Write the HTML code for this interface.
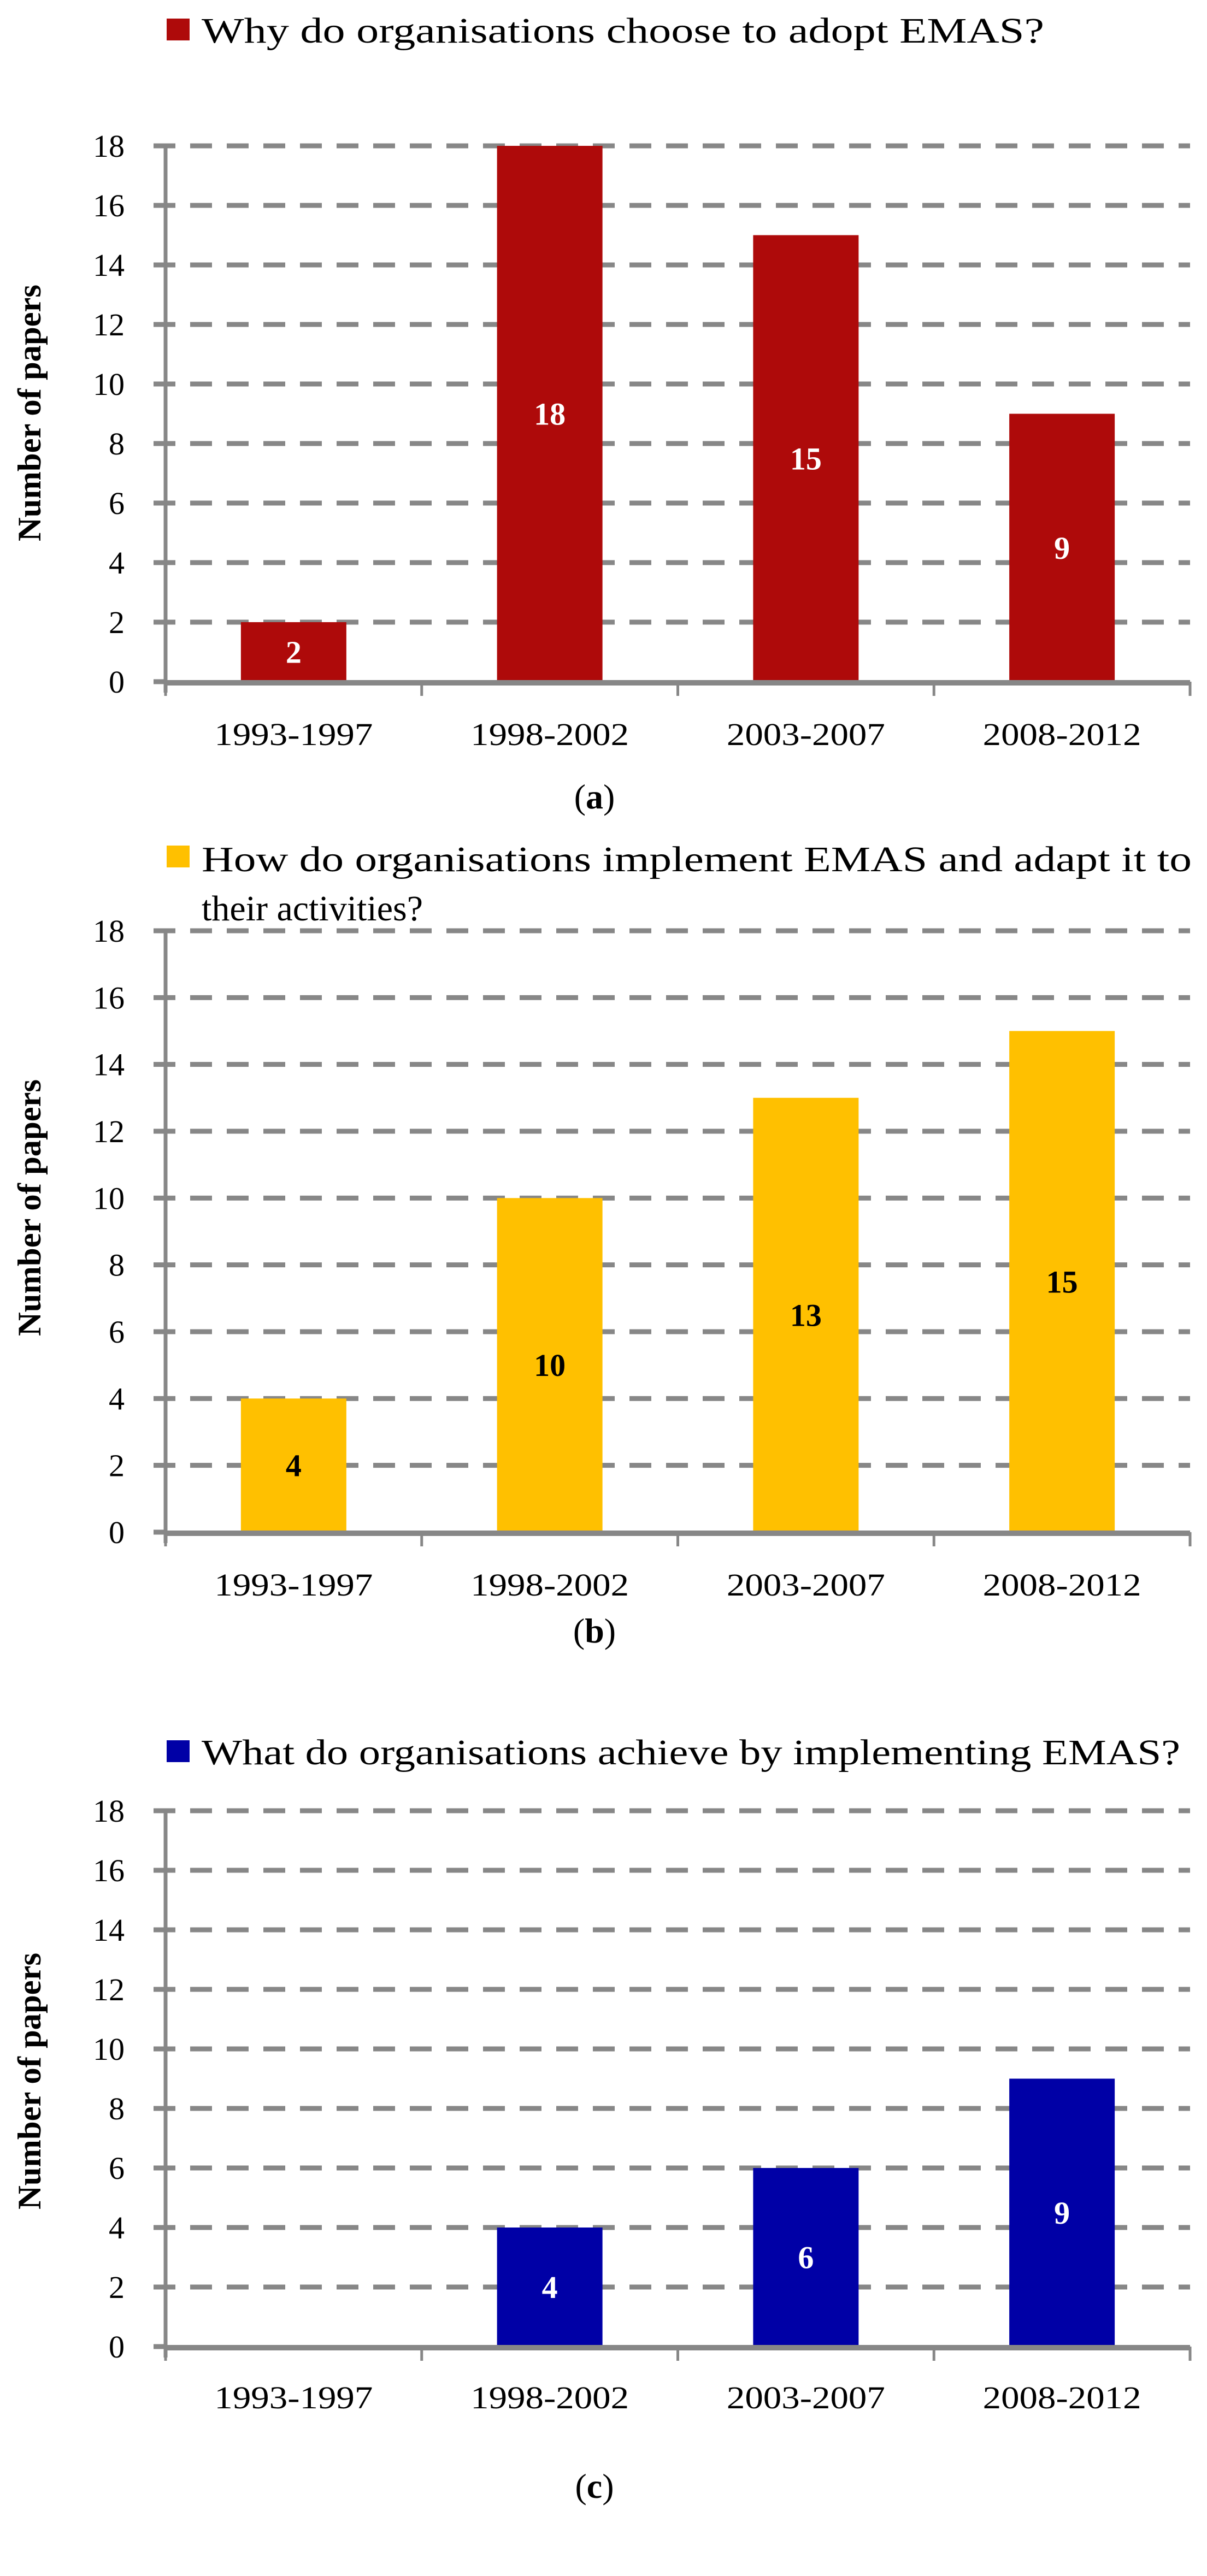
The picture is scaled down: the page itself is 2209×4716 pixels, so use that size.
<!DOCTYPE html>
<html><head><meta charset="utf-8"><title>EMAS papers</title>
<style>
html,body{margin:0;padding:0;background:#fff;}
svg{display:block;font-family:"Liberation Serif",serif;}
</style></head>
<body>
<svg id="fig" width="2209" height="4716" viewBox="0 0 2209 4716" xmlns="http://www.w3.org/2000/svg"></svg>
<script>
const categories = ["1993-1997","1998-2002","2003-2007","2008-2012"];
const valuesA = [2,18,15,9];
const valuesB = [4,10,13,15];
const valuesC = [0,4,6,9];
const yTicks = [0,2,4,6,8,10,12,14,16,18];
const legendA = ["Why do organisations choose to adopt EMAS?"];
const legendB = ["How do organisations implement EMAS and adapt it to","their activities?"];
const legendC = ["What do organisations achieve by implementing EMAS?"];

const NS = "http://www.w3.org/2000/svg";
const svg = document.getElementById("fig");
function mk(tag, attrs, parent){
  const e = document.createElementNS(NS, tag);
  for (const k in attrs) e.setAttribute(k, attrs[k]);
  (parent||svg).appendChild(e);
  return e;
}

const panels = [
  {key:"a", values:valuesA, legend:legendA, legendLens:[1542], color:"#AE0A0A", valColor:"#fff",
   top:267, bottom:1248, legSqY:34, legBase:[78], xLabBase:1364, subBase:1480, titleY:756},
  {key:"b", values:valuesB, legend:legendB, legendLens:[1812,0], color:"#FFC000", valColor:"#000",
   top:1704, bottom:2805, legSqY:1548, legBase:[1595,1685], xLabBase:2921, subBase:3007, titleY:2211},
  {key:"c", values:valuesC, legend:legendC, legendLens:[1791], color:"#0000A6", valColor:"#fff",
   top:3315, bottom:4296, legSqY:3186, legBase:[3230], xLabBase:4409, subBase:4573, titleY:3810}
];

const axisX = 303, rightX = 2178;
const catW = (rightX - axisX) / categories.length;
const barW = 193;

panels.forEach(p => {
  const g = mk("g", {});
  
  
  const yScale = v => p.bottom - (v / 18) * (p.bottom - p.top);
  const xCenter = i => axisX + catW * (i + 0.5);

  const sq = mk("rect", {x:305, y:p.legSqY, width:42, height:40, fill:p.color}, g);
  
  
  p.legend.forEach((line, i) => {
    const attrs = {x:369, y:p.legBase[i], "font-size":66, fill:"#000"};
    if (p.legendLens[i]) { attrs.textLength = p.legendLens[i]; attrs.lengthAdjust = "spacingAndGlyphs"; }
    const t = mk("text", attrs, g);
    t.textContent = line;
    
    
  });

  yTicks.forEach(v => {
    if (v === 0) return;
    const y = yScale(v);
    const gl = mk("line", {x1:281, x2:rightX, y1:y, y2:y, stroke:"#878787", "stroke-width":9,
      "stroke-dasharray":"40 27"}, g);
    
    
  });
  yTicks.forEach(v => {
    const t = mk("text", {x:228, y:yScale(v) + 20, "font-size":58, "text-anchor":"end", fill:"#000"}, g);
    t.textContent = v;
    
    
  });

  p.values.forEach((v, i) => {
    if (v <= 0) return;
    const y = yScale(v);
    const b = mk("rect", {x:xCenter(i) - barW/2, y:y, width:barW, height:p.bottom - y, fill:p.color}, g);
    
    
    const t = mk("text", {x:xCenter(i), y:(y + p.bottom)/2 + 20, "font-size":58, "font-weight":"bold",
      "text-anchor":"middle", fill:p.valColor}, g);
    t.textContent = v;
    
    
  });

  const ya = mk("line", {x1:axisX, x2:axisX, y1:p.top, y2:p.bottom + 20, stroke:"#878787", "stroke-width":7}, g);
  
  
  const stub = mk("line", {x1:281, x2:axisX, y1:p.bottom, y2:p.bottom, stroke:"#878787", "stroke-width":9}, g);
  
  
  const xa = mk("line", {x1:axisX, x2:rightX, y1:p.bottom + 2, y2:p.bottom + 2, stroke:"#878787", "stroke-width":10}, g);
  
  
  for (let i = 0; i <= categories.length; i++) {
    const x = axisX + catW * i;
    const tk = mk("line", {x1:x, x2:x, y1:p.bottom, y2:p.bottom + 26, stroke:"#878787", "stroke-width":5}, g);
    
    
  }
  categories.forEach((c, i) => {
    const t = mk("text", {x:xCenter(i), y:p.xLabBase, "font-size":58, "text-anchor":"middle", fill:"#000",
      textLength:290, lengthAdjust:"spacingAndGlyphs"}, g);
    t.textContent = c;
    
    
  });

  const yt = mk("text", {x:0, y:0, "font-size":60, "font-weight":"bold", "text-anchor":"middle", fill:"#000",
    textLength:470, lengthAdjust:"spacingAndGlyphs",
    transform:"translate(74," + p.titleY + ") rotate(-90)"}, g);
  yt.textContent = "Number of papers";
  
  

  const sl = mk("text", {x:1088, y:p.subBase, "font-size":64, "text-anchor":"middle", fill:"#000"}, g);
  
  
  const t1 = mk("tspan", {}, sl); t1.textContent = "(";
  const t2 = mk("tspan", {"font-weight":"bold"}, sl); t2.textContent = p.key;
  const t3 = mk("tspan", {}, sl); t3.textContent = ")";
});
</script>
</body></html>
